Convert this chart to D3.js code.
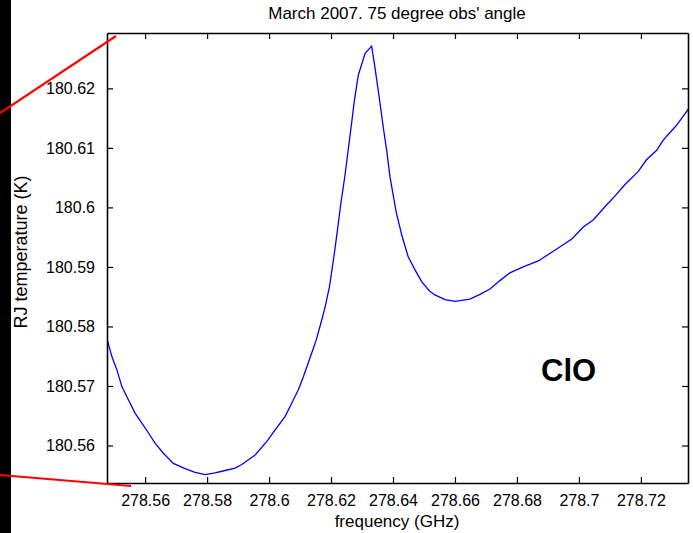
<!DOCTYPE html>
<html>
<head>
<meta charset="UTF-8">
<script src="https://d3js.org/d3.v7.min.js"></script>
<style>
  body { margin: 0; background: #fff; }
  text { font-family: "Liberation Sans", Arial, sans-serif; }
</style>
</head>
<body>
<svg id="chart"></svg>
<script>
// spectrum
var freq = [278.5478, 278.5493, 278.5509, 278.5525, 278.5546, 278.5568, 278.5589, 278.5611, 278.5632, 278.5659,
  278.5691, 278.5729, 278.5761, 278.5794, 278.5826, 278.5858, 278.5890, 278.5912, 278.5955, 278.5993,
  278.6019, 278.6052, 278.6073, 278.6095, 278.6111, 278.6132, 278.6152, 278.6167, 278.6181, 278.6195,
  278.6210, 278.6220, 278.6231, 278.6245, 278.6256, 278.6267, 278.6275, 278.6288, 278.6310, 278.6331,
  278.6342, 278.6356, 278.6369, 278.6380, 278.6390, 278.6410, 278.6428, 278.6449, 278.6471, 278.6493,
  278.6517, 278.6535, 278.6568, 278.6600, 278.6648, 278.6681, 278.6713, 278.6745, 278.6777, 278.6820,
  278.6869, 278.6901, 278.6937, 278.6977, 278.7014, 278.7046, 278.7089, 278.7116, 278.7148, 278.7191,
  278.7218, 278.7251, 278.7272, 278.7315, 278.7353];
var temp = [180.5777, 180.5749, 180.5727, 180.5699, 180.5677, 180.5654, 180.5638, 180.5621, 180.5604, 180.5587,
  180.5570, 180.5561, 180.5555, 180.5551, 180.5554, 180.5558, 180.5562, 180.5568, 180.5584, 180.5607,
  180.5626, 180.5649, 180.5671, 180.5694, 180.5716, 180.5747, 180.5777, 180.5805, 180.5833, 180.5867,
  180.5920, 180.5959, 180.6004, 180.6054, 180.6099, 180.6144, 180.6178, 180.6222, 180.6259, 180.6271,
  180.6234, 180.6183, 180.6133, 180.6094, 180.6052, 180.5993, 180.5954, 180.5917, 180.5895, 180.5875,
  180.5860, 180.5853, 180.5845, 180.5842, 180.5846, 180.5854, 180.5863, 180.5877, 180.5890, 180.5900,
  180.5910, 180.5921, 180.5933, 180.5947, 180.5967, 180.5979, 180.6004, 180.6019, 180.6038, 180.6060,
  180.6080, 180.6096, 180.6113, 180.6138, 180.6165];

var xTicks = [278.56, 278.58, 278.6, 278.62, 278.64, 278.66, 278.68, 278.7, 278.72];
var yTicks = [180.56, 180.57, 180.58, 180.59, 180.6, 180.61, 180.62];
var xDomain = [278.5477, 278.7352];
var yDomain = [180.5537, 180.6293];

var width = 693, height = 533;
var margin = {top: 33, right: 5, bottom: 50, left: 107};

var svg = d3.select("#chart").attr("width", width).attr("height", height);

var x = d3.scaleLinear().domain(xDomain).range([margin.left, width - margin.right]);
var y = d3.scaleLinear().domain(yDomain).range([height - margin.bottom, margin.top]);

var fmt = function(d) { return String(+d.toFixed(2)); };

// black strip on the left edge
svg.append("rect").attr("x", 0).attr("y", 0).attr("width", 11).attr("height", height).attr("fill", "#000");

svg.append("clipPath").attr("id", "clip")
  .append("rect")
  .attr("x", margin.left).attr("y", margin.top)
  .attr("width", width - margin.left - margin.right)
  .attr("height", height - margin.top - margin.bottom);

var pts = freq.map(function(f, i) { return [f, temp[i]]; });

svg.append("path")
  .datum(pts)
  .attr("clip-path", "url(#clip)")
  .attr("fill", "none")
  .attr("stroke", "#0000ff")
  .attr("stroke-width", 1.3)
  .attr("d", d3.line().x(function(d) { return x(d[0]); }).y(function(d) { return y(d[1]); }));

// axes, ticks pointing inwards on all four sides
var tk = 6;
svg.append("g").attr("transform", "translate(0," + (height - margin.bottom) + ")")
  .call(d3.axisBottom(x).tickValues(xTicks).tickSizeInner(-tk).tickSizeOuter(0).tickPadding(12).tickFormat(fmt));
svg.append("g").attr("transform", "translate(0," + margin.top + ")")
  .call(d3.axisTop(x).tickValues(xTicks).tickSizeInner(-tk).tickSizeOuter(0).tickFormat(""));
svg.append("g").attr("transform", "translate(" + margin.left + ",0)")
  .call(d3.axisLeft(y).tickValues(yTicks).tickSizeInner(-tk).tickSizeOuter(0).tickPadding(12).tickFormat(fmt));
svg.append("g").attr("transform", "translate(" + (width - margin.right) + ",0)")
  .call(d3.axisRight(y).tickValues(yTicks).tickSizeInner(-tk).tickSizeOuter(0).tickFormat(""));

svg.selectAll(".domain").attr("stroke", "#000").attr("stroke-width", 1.6);
svg.selectAll(".tick line").attr("stroke", "#000").attr("stroke-width", 1.2);
svg.selectAll(".tick text").attr("font-family", "Liberation Sans, Arial, sans-serif")
  .attr("font-size", 16).attr("fill", "#000");

// red zoom lines
var zoomLines = [[[0, 113], [116, 36]], [[0, 475], [131, 486]]];
svg.selectAll(".zl").data(zoomLines).enter().append("line")
  .attr("x1", function(d) { return d[0][0]; }).attr("y1", function(d) { return d[0][1]; })
  .attr("x2", function(d) { return d[1][0]; }).attr("y2", function(d) { return d[1][1]; })
  .attr("stroke", "#ff0000").attr("stroke-width", 2.2);

// titles
svg.append("text").attr("x", 397).attr("y", 19)
  .attr("text-anchor", "middle").attr("font-size", 17).text("March 2007. 75 degree obs' angle");
svg.append("text").attr("x", 397).attr("y", 527)
  .attr("text-anchor", "middle").attr("font-size", 17).text("frequency (GHz)");
svg.append("text").attr("transform", "translate(27,252) rotate(-90)")
  .attr("text-anchor", "middle").attr("font-size", 18).text("RJ temperature (K)");

svg.append("text").attr("x", 541).attr("y", 381)
  .attr("font-family", "Lato, 'Open Sans', sans-serif").attr("font-weight", "bold").attr("font-size", 31)
  .text("ClO");
</script>
</body>
</html>
